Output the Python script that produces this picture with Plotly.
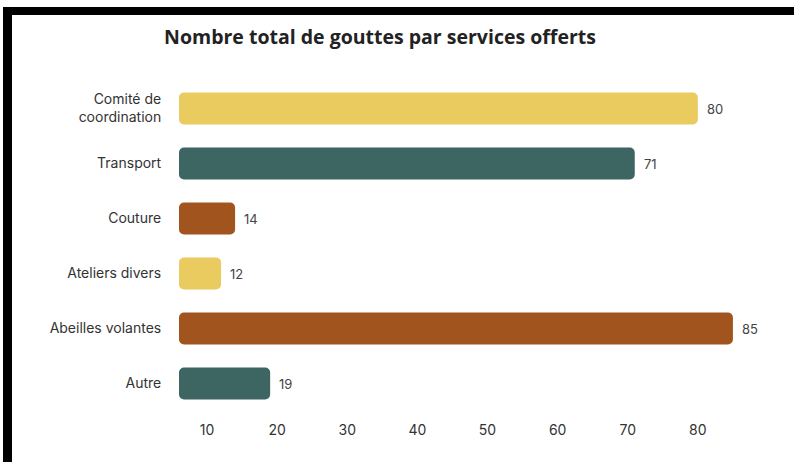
import plotly.graph_objects as go

categories = ["Comité de<br>coordination", "Transport", "Couture", "Ateliers divers", "Abeilles volantes", "Autre"]
values = [80, 71, 14, 12, 85, 19]
bar_colors = ["#EACB5F", "#3D6663", "#A1541E", "#EACB5F", "#A1541E", "#3D6663"]
tick_values = [10, 20, 30, 40, 50, 60, 70, 80]
title_text = "Nombre total de gouttes par services offerts"

AXIS_START = 6
W, H = 794, 462
L, R, T, B = 179, 12, 81, 51
PW, PH = W - L - R, H - T - B


def px_x(px):
    return (px - L) / PW


def px_y(py):
    return (H - B - py) / PH


fig = go.Figure()
fig.add_trace(go.Bar(
    y=categories,
    x=[v - AXIS_START for v in values],
    base=AXIS_START,
    orientation="h",
    marker=dict(color=bar_colors, cornerradius=5, line=dict(width=0)),
    width=0.58,
    hoverinfo="skip",
))

for c, v in zip(categories, values):
    fig.add_annotation(x=v, y=c, text=str(v), showarrow=False, xanchor="left",
                       xshift=7, font=dict(family="Inter, Roboto, sans-serif", size=13, color="#444444"))

shapes = [
    dict(type="rect", xref="paper", yref="paper", x0=px_x(3), x1=px_x(800), y0=px_y(15), y1=px_y(7),
         fillcolor="black", line=dict(width=0), layer="above"),
    dict(type="rect", xref="paper", yref="paper", x0=px_x(3), x1=px_x(12), y0=px_y(470), y1=px_y(7),
         fillcolor="black", line=dict(width=0), layer="above"),
]

fig.update_layout(
    width=W, height=H,
    margin=dict(l=L, r=R, t=T, b=B),
    paper_bgcolor="white", plot_bgcolor="white",
    showlegend=False,
    shapes=shapes,
    title=dict(text=title_text, x=380 / W, xanchor="center", yref="container", y=1 - 37 / H, yanchor="middle",
               font=dict(family="Open Sans, sans-serif", size=19.5, color="#222222", weight="bold")),
    xaxis=dict(range=[AXIS_START, 92], tickvals=tick_values, showgrid=False, zeroline=False, showline=False,
               ticks="outside", ticklen=6, tickcolor="rgba(0,0,0,0)",
               tickfont=dict(family="Inter, Roboto, sans-serif", size=14, color="#333333")),
    yaxis=dict(autorange="reversed", showgrid=False, zeroline=False, showline=False,
               ticks="outside", ticklen=14, tickcolor="rgba(0,0,0,0)",
               tickfont=dict(family="Inter, Roboto, sans-serif", size=14, color="#333333")),
)

fig.write_html("out.html", config={"displayModeBar": False},
               post_script="document.body.style.margin='0';")
